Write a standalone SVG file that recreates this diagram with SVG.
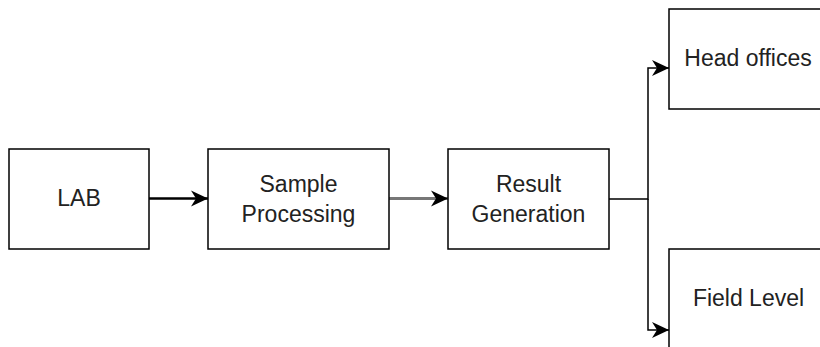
<svg xmlns="http://www.w3.org/2000/svg" width="820" height="347" viewBox="0 0 820 347">
  <style>
    .box { fill: #ffffff; stroke: #000000; stroke-width: 1.5; }
    .lbl { font-family: "Liberation Sans", Arial, sans-serif; font-size: 23px; fill: #222222; text-anchor: middle; }
    .c { fill: none; stroke-linejoin: miter; }
  </style>
  <defs>
    <marker id="arr" markerUnits="userSpaceOnUse" viewBox="-18 -9 19 18" refX="0" refY="0" markerWidth="19" markerHeight="18" orient="auto">
      <path d="M0,0 L-17,-8 L-12,0 L-17,8 Z" fill="#000000"/>
    </marker>
  </defs>
  <rect x="0" y="0" width="820" height="347" fill="#ffffff"/>
  <g id="connectors">
    <path class="c" d="M149,198.5 H208" stroke="#000000" stroke-width="2.5" marker-end="url(#arr)"/>
    <path class="c" d="M389,198.5 H448" stroke="#777777" stroke-width="2.8" marker-end="url(#arr)"/>
    <path class="c" d="M609,199 H648 V68 H669" stroke="#000000" stroke-width="1.5" marker-end="url(#arr)"/>
    <path class="c" d="M648,199 V330 H669" stroke="#000000" stroke-width="1.5" marker-end="url(#arr)"/>
  </g>
  <g id="lab">
    <rect class="box" x="9" y="149" width="140" height="100"/>
    <text class="lbl" x="79" y="206">LAB</text>
  </g>
  <g id="sample-processing">
    <rect class="box" x="208" y="149" width="181" height="100"/>
    <text class="lbl" x="298.5" y="191.5">Sample</text>
    <text class="lbl" x="298.5" y="221.5">Processing</text>
  </g>
  <g id="result-generation">
    <rect class="box" x="448" y="149" width="161" height="100"/>
    <text class="lbl" x="528.5" y="191.5">Result</text>
    <text class="lbl" x="528.5" y="221.5">Generation</text>
  </g>
  <g id="head-offices">
    <rect class="box" x="669" y="9" width="160" height="100"/>
    <text class="lbl" x="748" y="65.5">Head offices</text>
  </g>
  <g id="field-level">
    <rect class="box" x="669" y="249" width="160" height="100"/>
    <text class="lbl" x="748.5" y="306">Field Level</text>
  </g>
</svg>
